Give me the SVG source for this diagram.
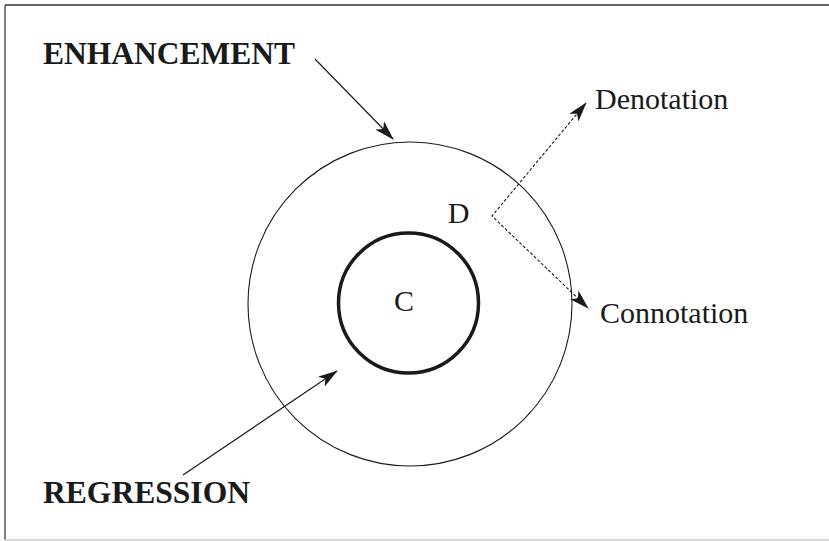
<svg xmlns="http://www.w3.org/2000/svg" width="829" height="541" viewBox="0 0 829 541">
<defs>
<style>
.bold{font-family:"Liberation Serif","Times New Roman",serif;font-weight:bold;font-size:31.5px;fill:#1a1a1a}
.lbl{font-family:"Liberation Serif","Times New Roman",serif;font-size:30px;fill:#1a1a1a}
.arr{stroke:#1a1a1a;stroke-width:1.2;fill:none;marker-end:url(#ah)}
.dash{stroke:#1a1a1a;stroke-width:1.1;fill:none;stroke-dasharray:3 2}
.tip{stroke:none;fill:none;marker-end:url(#ah)}
</style>
<marker id="ah" viewBox="0 0 20 12" refX="19" refY="6" markerWidth="20" markerHeight="12" markerUnits="userSpaceOnUse" orient="auto">
<path d="M0,0 L20,6 L0,12 L5,6 z" fill="#1a1a1a"/>
</marker>
</defs>
<rect width="829" height="541" fill="#ffffff"/>
<g id="frame">
<line x1="5" y1="5" x2="829" y2="5" stroke="#333" stroke-width="1.5"/>
<line x1="5" y1="5" x2="5" y2="540" stroke="#555" stroke-width="1.5"/>
<line x1="5" y1="540" x2="829" y2="540" stroke="#ccc" stroke-width="1.5"/>
</g>
<g id="outer-circle">
<circle cx="410" cy="304" r="162" fill="none" stroke="#1a1a1a" stroke-width="1.1"/>
</g>
<g id="inner-circle">
<circle cx="408.5" cy="303" r="70" fill="none" stroke="#1a1a1a" stroke-width="3.5"/>
<text class="lbl" x="404" y="311" text-anchor="middle">C</text>
</g>
<g id="label-D">
<text class="lbl" x="458.5" y="223" text-anchor="middle">D</text>
</g>
<g id="enhancement">
<text class="bold" x="43" y="64" textLength="252" lengthAdjust="spacingAndGlyphs">ENHANCEMENT</text>
</g>
<g id="regression">
<text class="bold" x="43" y="503" textLength="207" lengthAdjust="spacingAndGlyphs">REGRESSION</text>
</g>
<g id="denotation">
<text class="lbl" x="595" y="109">Denotation</text>
</g>
<g id="connotation">
<text class="lbl" x="600" y="323">Connotation</text>
</g>
<g id="connectors">
<line class="arr" x1="315" y1="59" x2="393" y2="139"/>
<line class="arr" x1="183" y1="475" x2="337" y2="371"/>
<polyline class="dash" points="586,103 492,216 588,308"/>
<line class="tip" x1="576" y1="115" x2="586" y2="103"/>
<line class="tip" x1="578" y1="298.4" x2="588" y2="308"/>
</g>
</svg>
